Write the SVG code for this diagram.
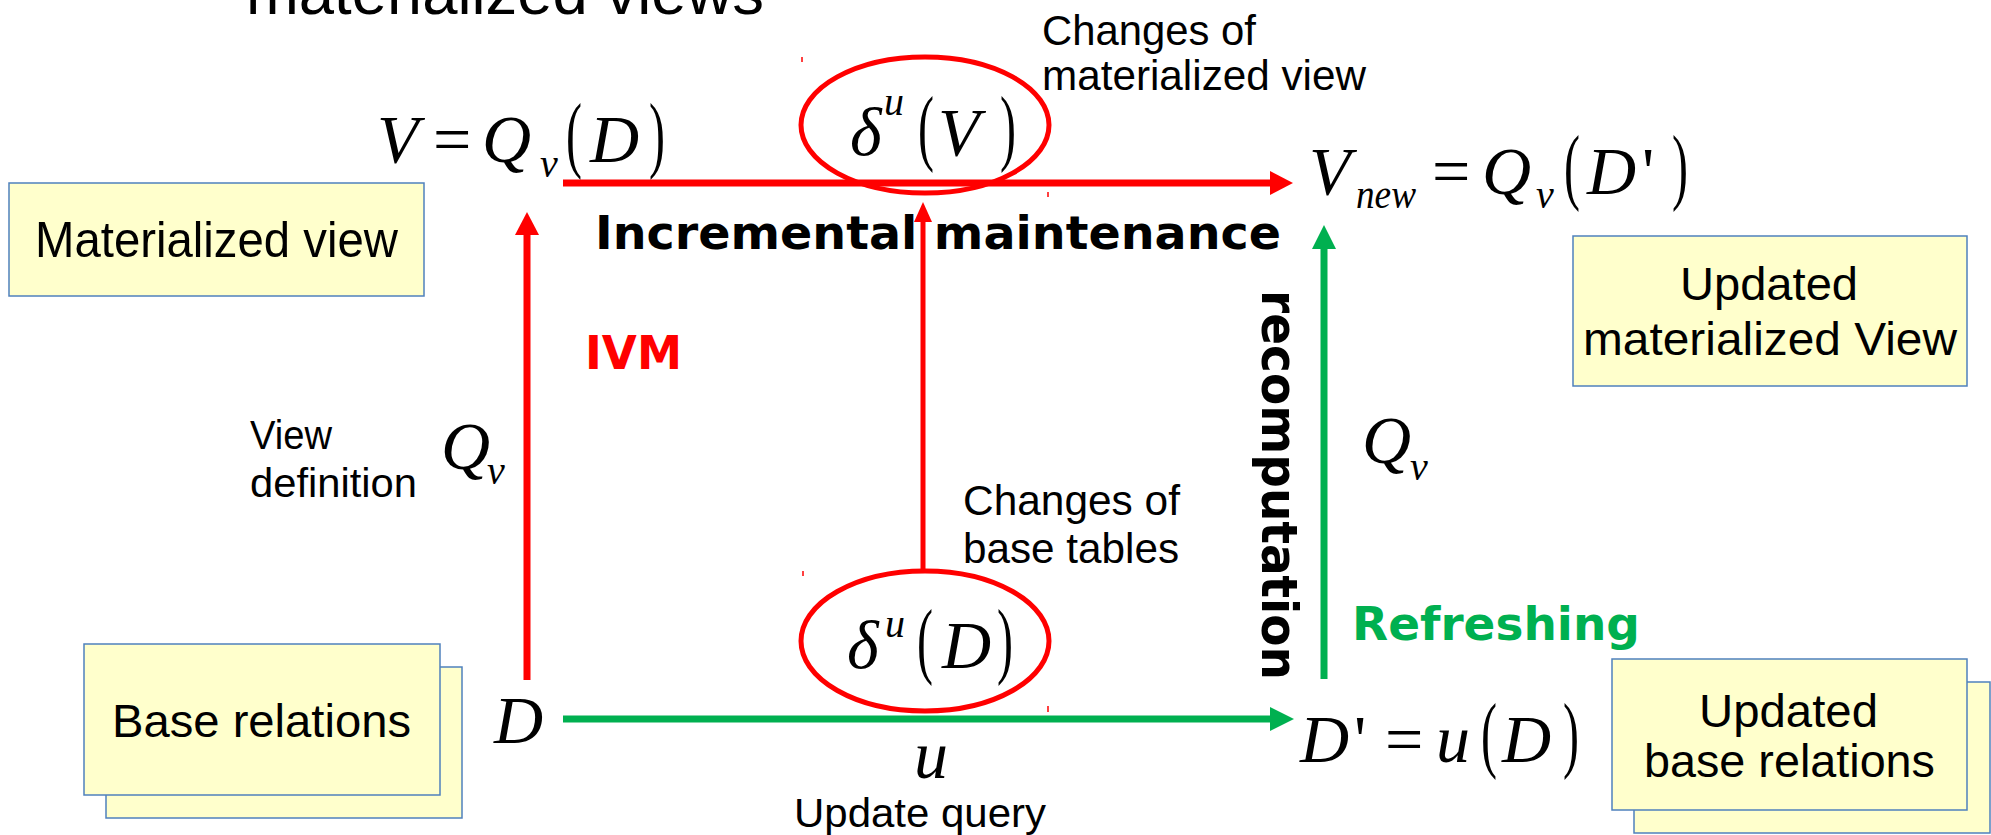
<svg xmlns="http://www.w3.org/2000/svg" width="1991" height="835" viewBox="0 0 1991 835">
<style>
.box{fill:#FFFFCC;stroke:#4F81BD;stroke-width:1.5}
.lbl{font-family:"Liberation Sans",Arial,sans-serif;fill:#000}
.bold{font-family:"DejaVu Sans",Verdana,sans-serif;font-weight:bold}
.m{font-family:"Liberation Serif","Times New Roman",serif;font-style:italic;font-size:68px;fill:#000}
.mn{font-family:"Liberation Serif","Times New Roman",serif;font-style:normal;font-size:68px;fill:#000}
.par{font-family:"Liberation Serif","Times New Roman",serif;font-style:normal;font-size:60px;fill:#000}
.sub{font-family:"Liberation Serif","Times New Roman",serif;font-style:italic;font-size:40px;fill:#000}
.red{stroke:#FF0000;fill:none}
.grn{stroke:#00B050;fill:none}
.tick{stroke:#FF0000;stroke-width:1.5}
</style>
<defs>
<marker id="ahR" markerUnits="userSpaceOnUse" markerWidth="26" markerHeight="26" refX="0" refY="13" orient="auto" viewBox="0 0 26 26"><path d="M0,1 L23,13 L0,25 z" fill="#FF0000"/></marker>
<marker id="ahRs" markerUnits="userSpaceOnUse" markerWidth="22" markerHeight="22" refX="0" refY="11" orient="auto" viewBox="0 0 22 22"><path d="M0,2 L20,11 L0,20 z" fill="#FF0000"/></marker>
<marker id="ahG" markerUnits="userSpaceOnUse" markerWidth="26" markerHeight="26" refX="0" refY="13" orient="auto" viewBox="0 0 26 26"><path d="M0,1 L24,13 L0,25 z" fill="#00B050"/></marker>
</defs>

<g id="title"><text class="lbl" x="246" y="14" font-size="63" textLength="518" lengthAdjust="spacingAndGlyphs">materialized views</text></g>

<g id="box-materialized-view">
<rect class="box" x="9" y="183" width="415" height="113"/>
<text class="lbl" x="35" y="257" font-size="50" textLength="363" lengthAdjust="spacingAndGlyphs">Materialized view</text>
</g>

<g id="box-updated-view">
<rect class="box" x="1573" y="236" width="394" height="150"/>
<text class="lbl" x="1680" y="300" font-size="47" textLength="178" lengthAdjust="spacingAndGlyphs">Updated</text>
<text class="lbl" x="1583" y="355" font-size="47" textLength="374" lengthAdjust="spacingAndGlyphs">materialized View</text>
</g>

<g id="box-base-relations">
<rect class="box" x="106" y="667" width="356" height="151"/>
<rect class="box" x="84" y="644" width="356" height="151"/>
<text class="lbl" x="112" y="737" font-size="47" textLength="299" lengthAdjust="spacingAndGlyphs">Base relations</text>
</g>

<g id="box-updated-base">
<rect class="box" x="1634" y="682" width="356" height="151"/>
<rect class="box" x="1612" y="659" width="355" height="151"/>
<text class="lbl" x="1699" y="727" font-size="47" textLength="179" lengthAdjust="spacingAndGlyphs">Updated</text>
<text class="lbl" x="1644" y="777" font-size="47" textLength="291" lengthAdjust="spacingAndGlyphs">base relations</text>
</g>

<g id="formula-V">
<text class="m" x="377" y="162">V</text>
<text class="mn" x="433" y="162">=</text>
<text class="m" x="482" y="162">Q</text>
<text class="sub" x="540" y="177">v</text>
<text class="par" transform="translate(566,162) scale(0.8,1.4)">(</text>
<text class="m" x="590" y="162">D</text>
<text class="par" transform="translate(649,162) scale(0.8,1.4)">)</text>
</g>

<g id="formula-Vnew">
<text class="m" x="1309" y="194">V</text>
<text class="sub" x="1356" y="208" textLength="60" lengthAdjust="spacingAndGlyphs">new</text>
<text class="mn" x="1432" y="194">=</text>
<text class="m" x="1482" y="194">Q</text>
<text class="sub" x="1536" y="208">v</text>
<text class="par" transform="translate(1564,194) scale(0.8,1.4)">(</text>
<text class="m" x="1587" y="194">D</text>
<text class="mn" x="1642" y="194">'</text>
<text class="par" transform="translate(1672,194) scale(0.8,1.4)">)</text>
</g>

<g id="formula-D">
<text class="m" x="494" y="743">D</text>
</g>

<g id="formula-Dprime">
<text class="m" x="1300" y="762">D</text>
<text class="mn" x="1354" y="762">'</text>
<text class="mn" x="1385" y="762">=</text>
<text class="m" x="1436" y="762">u</text>
<text class="par" transform="translate(1481,762) scale(0.8,1.4)">(</text>
<text class="m" x="1502" y="762">D</text>
<text class="par" transform="translate(1563,762) scale(0.8,1.4)">)</text>
</g>

<g id="delta-V">
<ellipse class="red" cx="925" cy="125" rx="124" ry="68" stroke-width="5"/>
<text class="m" x="850" y="155">δ</text>
<text class="sub" x="884" y="115" font-size="36">u</text>
<text class="par" transform="translate(918,155) scale(0.8,1.4)">(</text>
<text class="m" x="938" y="155">V</text>
<text class="par" transform="translate(1000,155) scale(0.8,1.4)">)</text>
</g>

<g id="delta-D">
<ellipse class="red" cx="925" cy="641" rx="124" ry="70" stroke-width="5"/>
<text class="m" x="847" y="668">δ</text>
<text class="sub" x="885" y="637" font-size="36">u</text>
<text class="par" transform="translate(917,668) scale(0.8,1.4)">(</text>
<text class="m" x="942" y="668">D</text>
<text class="par" transform="translate(997,668) scale(0.8,1.4)">)</text>
</g>

<g id="labels">
<text class="lbl" x="1042" y="45" font-size="42" textLength="214" lengthAdjust="spacingAndGlyphs">Changes of</text>
<text class="lbl" x="1042" y="90" font-size="42" textLength="324" lengthAdjust="spacingAndGlyphs">materialized view</text>
<text class="lbl" x="963" y="515" font-size="42" textLength="217" lengthAdjust="spacingAndGlyphs">Changes of</text>
<text class="lbl" x="963" y="563" font-size="42" textLength="216" lengthAdjust="spacingAndGlyphs">base tables</text>
<text class="lbl" x="250" y="449" font-size="41" textLength="82" lengthAdjust="spacingAndGlyphs">View</text>
<text class="lbl" x="250" y="497" font-size="41" textLength="167" lengthAdjust="spacingAndGlyphs">definition</text>
<text class="lbl" x="794" y="827" font-size="41" textLength="252" lengthAdjust="spacingAndGlyphs">Update query</text>
<text class="m" x="441" y="469">Q</text>
<text class="sub" x="487" y="484">v</text>
<text class="m" x="1362" y="463">Q</text>
<text class="sub" x="1410" y="480">v</text>
<text class="m" x="914" y="778">u</text>
<text class="bold" x="595" y="249" font-size="47" textLength="686" lengthAdjust="spacingAndGlyphs">Incremental maintenance</text>
<text class="bold" x="585" y="369" font-size="47" fill="#FF0000" textLength="97" lengthAdjust="spacingAndGlyphs">IVM</text>
<text class="bold" x="1352" y="640" font-size="47" fill="#00B050" textLength="288" lengthAdjust="spacingAndGlyphs">Refreshing</text>
<text class="bold" transform="translate(1262,290) rotate(90)" x="0" y="0" font-size="50" textLength="390" lengthAdjust="spacingAndGlyphs">recomputation</text>
</g>

<g id="connectors">
<line class="red" x1="563" y1="183" x2="1270" y2="183" stroke-width="7" marker-end="url(#ahR)"/>
<line class="red" x1="527" y1="680" x2="527" y2="235" stroke-width="7" marker-end="url(#ahR)"/>
<line class="red" x1="923" y1="571" x2="923" y2="222" stroke-width="5" marker-end="url(#ahRs)"/>
<line class="grn" x1="563" y1="719" x2="1270" y2="719" stroke-width="7" marker-end="url(#ahG)"/>
<line class="grn" x1="1324" y1="679" x2="1324" y2="249" stroke-width="7" marker-end="url(#ahG)"/>
<line class="tick" x1="802" y1="57" x2="802" y2="62"/>
<line class="tick" x1="1048" y1="192" x2="1048" y2="197"/>
<line class="tick" x1="803" y1="571" x2="803" y2="576"/>
<line class="tick" x1="1048" y1="706" x2="1048" y2="712"/>
</g>
</svg>
